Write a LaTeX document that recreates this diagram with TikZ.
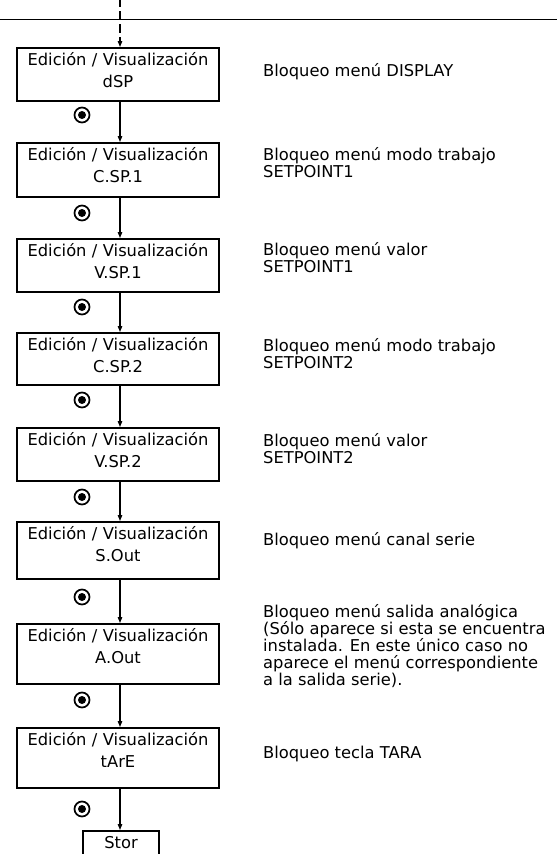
\documentclass[tikz,border=0pt]{standalone}
\usepackage{fontspec}
\setmainfont{DejaVu Sans}
\usetikzlibrary{arrows.meta}
\begin{document}
\begin{tikzpicture}[x=1pt,y=-1pt,
  ebox/.style={draw, line width=1.6pt, rectangle, inner sep=0pt, text width=202pt, align=center,
    font=\fontsize{16.3}{21.5}\selectfont, text height=18pt, text depth=#1, anchor=north},
  lbl/.style={anchor=base west, inner sep=0pt, align=left, font=\fontsize{16.3}{17}\selectfont},
  conn/.style={line width=1.2pt, -{Triangle[length=6pt,width=4.5pt]}},
  sel/.style={circle, draw, line width=1.7pt, minimum size=15pt, inner sep=0pt,
    path picture={\fill (path picture bounding box.center) circle (4pt);}}]
\useasboundingbox (0,0) rectangle (557,854);
\clip (0,0) rectangle (557,854);
% top rule
\coordinate (hl) at (0,19.3);
\coordinate (hr) at (557,19.3);
\draw[line width=1pt] (hl) -- (hr);
\coordinate (ax) at (120,0);
% boxes
\node[ebox=35pt] (b1) at (118,47) {Edición / Visualización\\dSP};
\node[ebox=36pt] (b2) at (118,142) {Edición / Visualización\\C.SP.1};
\node[ebox=35pt] (b3) at (118,238) {Edición / Visualización\\V.SP.1};
\node[ebox=34pt] (b4) at (118,332) {Edición / Visualización\\C.SP.2};
\node[ebox=35pt] (b5) at (118,427) {Edición / Visualización\\V.SP.2};
\node[ebox=39pt] (b6) at (118,521) {Edición / Visualización\\S.Out};
\node[ebox=42pt] (b7) at (118,623) {Edición / Visualización\\A.Out};
\node[ebox=42pt] (b8) at (118,727) {Edición / Visualización\\tArE};
\node[draw, line width=1.6pt, rectangle, inner sep=0pt, minimum width=76pt,
  font=\fontsize{16.3}{22}\selectfont, text height=18pt, text depth=30pt, anchor=north] (st) at (121,830) {Stor};
% connectors
\draw[conn, dash pattern=on 9pt off 4pt, dash phase=2pt] (ax) -- (b1.north -| ax);
\draw[conn] (b1.south -| ax) -- (b2.north -| ax);
\draw[conn] (b2.south -| ax) -- (b3.north -| ax);
\draw[conn] (b3.south -| ax) -- (b4.north -| ax);
\draw[conn] (b4.south -| ax) -- (b5.north -| ax);
\draw[conn] (b5.south -| ax) -- (b6.north -| ax);
\draw[conn] (b6.south -| ax) -- (b7.north -| ax);
\draw[conn] (b7.south -| ax) -- (b8.north -| ax);
\draw[conn] (b8.south -| ax) -- (st.north -| ax);
% selection symbols
\node[sel] (c1) at (82,115) {};
\node[sel] (c2) at (82,213) {};
\node[sel] (c3) at (82,307) {};
\node[sel] (c4) at (82,400) {};
\node[sel] (c5) at (82,497) {};
\node[sel] (c6) at (82,597) {};
\node[sel] (c7) at (82,700) {};
\node[sel] (c8) at (82,809) {};
% labels (anchor = baseline of the last line)
\node[lbl] (l1) at (263,76) {Bloqueo menú DISPLAY};
\node[lbl] (l2) at (263,177) {Bloqueo menú modo trabajo\\SETPOINT1};
\node[lbl] (l3) at (263,272) {Bloqueo menú valor\\SETPOINT1};
\node[lbl] (l4) at (263,368) {Bloqueo menú modo trabajo\\SETPOINT2};
\node[lbl] (l5) at (263,463) {Bloqueo menú valor\\SETPOINT2};
\node[lbl] (l6) at (263,545) {Bloqueo menú canal serie};
\node[lbl, font=\fontsize{16.3}{16.8}\selectfont] (l7) at (263,685) {Bloqueo menú salida analógica\\(Sólo aparece si esta se encuentra\\instalada. En este único caso no\\aparece el menú correspondiente\\a la salida serie).};
\node[lbl] (l8) at (263,758) {Bloqueo tecla TARA};
\end{tikzpicture}
\end{document}
